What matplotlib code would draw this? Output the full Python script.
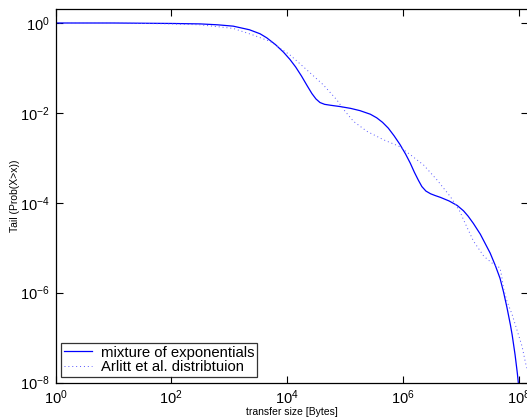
import matplotlib
matplotlib.use("Agg")
import matplotlib.pyplot as plt
from matplotlib.ticker import FixedLocator, NullLocator, LogFormatterMathtext
import numpy as np

plt.rcParams['font.family'] = ['Liberation Sans', 'DejaVu Sans']
plt.rcParams['mathtext.fontset'] = 'custom'
plt.rcParams['mathtext.rm'] = 'Liberation Sans'
plt.rcParams['mathtext.it'] = 'Liberation Sans:italic'

# log10(x), log10(y)
mix_logx = [0.0, 1.0, 2.0, 2.5, 2.8, 3.07, 3.35, 3.535, 3.65, 3.8, 3.94, 4.05, 4.15, 4.25,
            4.35, 4.43, 4.50, 4.57, 4.65, 4.75, 4.92, 5.10, 5.26, 5.44, 5.55, 5.65, 5.75,
            5.85, 5.95, 6.05, 6.13, 6.20, 6.27, 6.33, 6.40, 6.48, 6.56, 6.65, 6.80, 6.94,
            7.05, 7.13, 7.22, 7.34, 7.51, 7.60, 7.68, 7.74, 7.80, 7.86, 7.89, 7.94, 7.98, 8.02]
mix_logy = [0.0, 0.0, -0.01, -0.02, -0.04, -0.07, -0.15, -0.24, -0.33, -0.48, -0.65, -0.81,
            -0.98, -1.18, -1.40, -1.57, -1.69, -1.77, -1.81, -1.83, -1.86, -1.90, -1.95,
            -2.03, -2.11, -2.21, -2.34, -2.51, -2.70, -2.92, -3.12, -3.32, -3.50, -3.64,
            -3.74, -3.80, -3.84, -3.88, -3.96, -4.06, -4.18, -4.30, -4.46, -4.70, -5.12,
            -5.40, -5.68, -5.98, -6.33, -6.72, -6.94, -7.38, -7.80, -8.3]

arl_logx = [0.0, 1.0, 2.0, 2.5, 3.07, 3.42, 3.71, 4.05, 4.34, 4.63, 4.86, 5.0, 5.15,
            5.38, 5.67, 5.93, 6.13, 6.36, 6.59, 6.82, 6.99, 7.05, 7.22, 7.40, 7.54,
            7.68, 7.71, 7.74, 7.80, 7.89, 7.97, 8.06, 8.12, 8.16]
arl_logy = [0.0, 0.0, -0.02, -0.04, -0.12, -0.27, -0.41, -0.71, -1.04, -1.38, -1.71, -1.96, -2.19,
            -2.41, -2.60, -2.74, -2.93, -3.16, -3.49, -3.86, -4.20, -4.38, -4.85, -5.19, -5.34,
            -5.45, -5.64, -5.90, -6.19, -6.49, -6.82, -7.19, -7.56, -7.75]

x_ticks = [1e0, 1e2, 1e4, 1e6, 1e8]
y_ticks = [1e-8, 1e-6, 1e-4, 1e-2, 1e0]

fig = plt.figure(figsize=(5.27, 4.19), dpi=100)
ax = fig.add_axes([55.5/527, 36.5/419, 472/527, 373.2/419])

ax.plot(10**np.array(mix_logx), 10**np.array(mix_logy), color='#0000ff', lw=0.9,
        label='mixture of exponentials')
ax.plot(10**np.array(arl_logx), 10**np.array(arl_logy), color='#5555ff', lw=0.7,
        linestyle=(0, (1, 3)), label='Arlitt et al. distribtuion')

ax.set_xscale('log')
ax.set_yscale('log')
ax.set_xlim(1, 10**8.155)
ax.set_ylim(1e-8, 10**0.305)

ax.xaxis.set_major_locator(FixedLocator(x_ticks))
ax.yaxis.set_major_locator(FixedLocator(y_ticks))
ax.xaxis.set_minor_locator(NullLocator())
ax.yaxis.set_minor_locator(NullLocator())
ax.xaxis.set_major_formatter(LogFormatterMathtext())
ax.yaxis.set_major_formatter(LogFormatterMathtext())
ax.tick_params(which='both', direction='in', top=True, right=True, length=5, width=0.8,
               labelsize=10.5, pad=4)
for s in ax.spines.values():
    s.set_linewidth(0.9)

ax.set_xlabel('transfer size [Bytes]', fontsize=7.5, labelpad=0)
ax.set_ylabel('Tail (Prob(X>x))', fontsize=7.5, labelpad=0)

leg = ax.legend(loc='lower left', fontsize=10.7, frameon=True, fancybox=False,
                edgecolor='black', borderpad=0.2, labelspacing=0.05, handlelength=1.9,
                handletextpad=0.6, borderaxespad=0.35)
leg.get_frame().set_linewidth(0.9)

fig.savefig('out.png', dpi=100)
